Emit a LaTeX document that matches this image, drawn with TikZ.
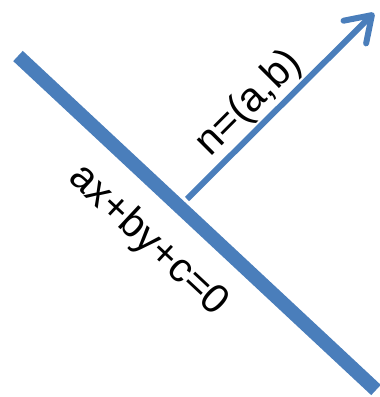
\documentclass[tikz,border=0pt]{standalone}
\usepackage{fontspec}
\setmainfont{Liberation Sans}
\usetikzlibrary{arrows.meta}
\definecolor{lineblue}{HTML}{4A7EBB}

\begin{document}
\begin{tikzpicture}[x=1pt,y=-1pt]
  \tikzstyle{eqn}=[font=\fontsize{41}{48}\selectfont,inner sep=0pt]
  \tikzstyle{thick line}=[draw=lineblue,line width=14pt]
  \tikzstyle{normal}=[draw=lineblue,line width=6pt,
    -{Straight Barb[length=24pt,width=32pt,round]}]
  \useasboundingbox (0,0) rectangle (380,397) ;

  \coordinate (start) at (18,56) ;
  \coordinate (end) at (376,390) ;
  \coordinate (foot) at (187,199) ;
  \coordinate (tip) at (374,13) ;

  \path [thick line] (start) -- (end) ;
  \path [normal] (foot) -- (tip) ;

  \node [eqn,rotate=45] (nlabel) at (249,104) {n=(a,b)} ;
  \node [eqn,rotate=-43] (linelabel) at (148,241) {ax+by+c=0} ;

\end{tikzpicture}
\end{document}
